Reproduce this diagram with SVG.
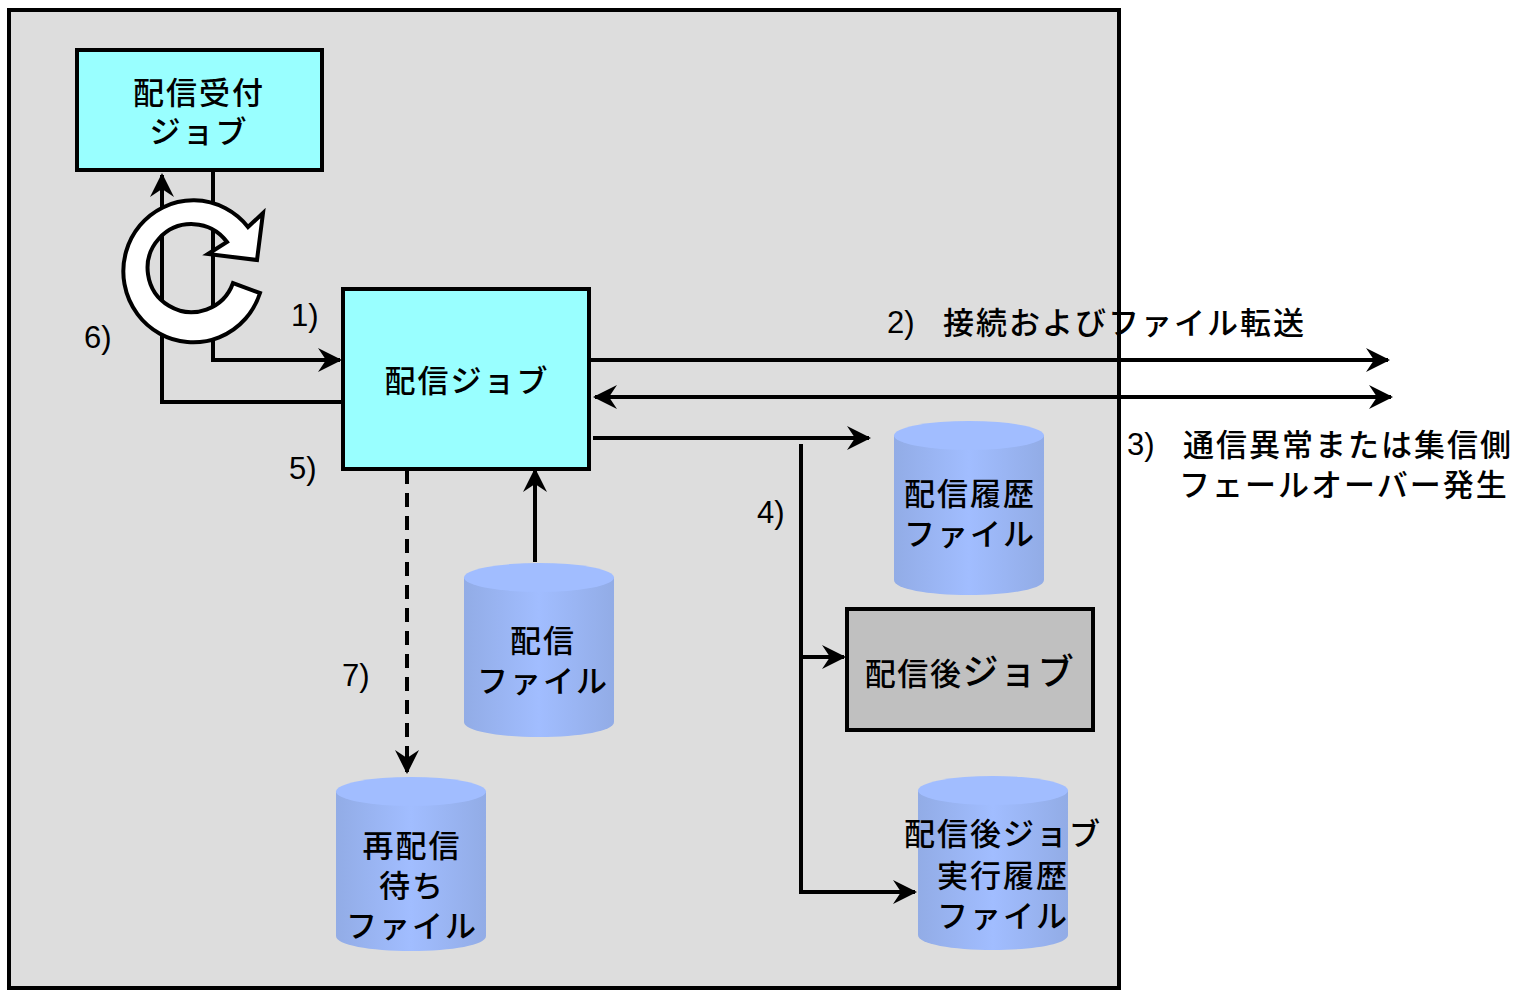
<svg xmlns="http://www.w3.org/2000/svg" width="1516" height="997" viewBox="0 0 1516 997">
<style>
text{font-family:"Noto Sans CJK JP","Liberation Sans",sans-serif;font-size:31px;font-weight:500;letter-spacing:2px;fill:#000;text-anchor:middle}
.n{font-family:"Liberation Sans",sans-serif;font-size:31px;font-weight:400;letter-spacing:0;text-anchor:start}
.l{text-anchor:start}
.box{stroke:#000;stroke-width:4}
.c{fill:none;stroke:#000;stroke-width:4}
.top{fill:#a1bdff}
.body{fill:url(#g)}
</style>
<defs>
<linearGradient id="g" x1="0" x2="1" y1="0" y2="0">
<stop offset="0" stop-color="#92ace6"/><stop offset=".5" stop-color="#a1bdff"/><stop offset="1" stop-color="#92ace6"/>
</linearGradient>
<marker id="a" markerUnits="userSpaceOnUse" markerWidth="26" markerHeight="26" refX="22" refY="13" orient="auto-start-reverse">
<path d="M0 1L24 13L0 25L8 13Z" fill="#000"/>
</marker>
<g id="cyl"><path class="body" d="M0 14V159C0 168 34 174 75 174S150 168 150 159V14Z"/><ellipse class="top" cx="75" cy="14.5" rx="75" ry="14.5"/></g>
</defs>
<rect id="bg" x="9" y="10" width="1110" height="978" fill="#dddddd" stroke="#000" stroke-width="4"/>
<g id="receive-job"><rect class="box" x="77" y="50" width="245" height="120" fill="#99ffff"/><text x="199" y="104">配信受付</text><text x="199" y="143">ジョブ</text></g>
<g id="job"><rect class="box" x="343" y="289" width="246" height="180" fill="#99ffff"/><text x="467" y="392">配信ジョブ</text></g>
<g id="post-job"><rect class="box" x="847" y="609" width="246" height="121" fill="#c0c0c0"/><text x="970" y="685" style="letter-spacing:1.6px">配信後<tspan font-size="36" style="letter-spacing:1.6px">ジョブ</tspan></text></g>
<g id="connectors">
<path class="c" d="M213 168V360H340" marker-end="url(#a)"/>
<path class="c" d="M343 402H162V175" marker-end="url(#a)"/>
<path class="c" d="M590 360H1388" marker-end="url(#a)"/>
<path class="c" d="M595 397H1391" marker-start="url(#a)" marker-end="url(#a)"/>
<path class="c" d="M593 438H869" marker-end="url(#a)"/>
<path class="c" d="M801 444V892H915" marker-end="url(#a)"/>
<path class="c" d="M801 657H844" marker-end="url(#a)"/>
<path class="c" d="M535 562V470" marker-end="url(#a)"/>
<path class="c" d="M407 470V772" stroke-dasharray="14 9" marker-end="url(#a)"/>
</g>
<g id="loop"><path d="M260 293A70 71 0 1 1 248 227L263 213L257 260L208 254L227 242A44 44 0 1 0 233 283Z" fill="#fff" stroke="#000" stroke-width="4" stroke-linejoin="miter"/></g>
<g id="history"><use href="#cyl" transform="translate(894 421)"/><text x="970" y="505">配信履歴</text><text x="970" y="545">ファイル</text></g>
<g id="delivery-file"><use href="#cyl" transform="translate(464 563)"/><text x="543" y="652">配信</text><text x="543" y="692">ファイル</text></g>
<g id="retry-file"><use href="#cyl" transform="translate(336 777)"/><text x="412" y="857">再配信</text><text x="412" y="897">待ち</text><text x="412" y="937">ファイル</text></g>
<g id="post-history"><use href="#cyl" transform="translate(918 776)"/><text x="1003" y="845">配信後ジョブ</text><text x="1003" y="887">実行履歴</text><text x="1003" y="927">ファイル</text></g>
<g id="labels">
<text class="n" x="291" y="326">1)</text>
<text class="n" x="84" y="348">6)</text>
<text class="n" x="289" y="479">5)</text>
<text class="n" x="757" y="523">4)</text>
<text class="n" x="342" y="686">7)</text>
<text class="n" x="887" y="333">2)</text>
<text class="l" x="943" y="334">接続およびファイル転送</text>
<text class="n" x="1127" y="455">3)</text>
<text class="l" x="1183" y="456">通信異常または集信側</text>
<text class="l" x="1179" y="496">フェールオーバー発生</text>
</g>
</svg>
